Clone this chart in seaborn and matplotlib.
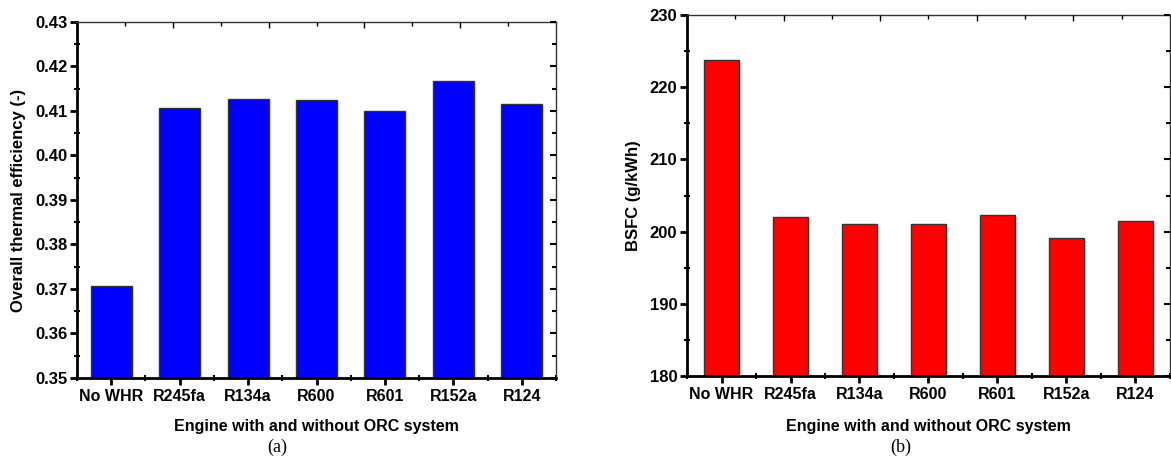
import numpy as np
import matplotlib
matplotlib.use('Agg')
import matplotlib.pyplot as plt
import seaborn as sns
from matplotlib.ticker import MultipleLocator, FixedLocator, NullFormatter, FormatStrFormatter

# Data
categories = ['No WHR', 'R245fa', 'R134a', 'R600', 'R601', 'R152a', 'R124']
efficiency = [0.3706, 0.4106, 0.4128, 0.4125, 0.4100, 0.4168, 0.4116]
bsfc = [223.8, 202.0, 201.0, 201.1, 202.3, 199.1, 201.5]

sns.set_style('white')
plt.rcParams['font.family'] = ['Liberation Sans', 'DejaVu Sans']
plt.rcParams['text.color'] = 'black'
plt.rcParams['axes.labelcolor'] = 'black'
plt.rcParams['xtick.color'] = 'black'
plt.rcParams['ytick.color'] = 'black'

fig = plt.figure(figsize=(11.71, 4.61), dpi=100)
ax1 = fig.add_axes([77 / 1171, 83 / 461, 479 / 1171, 356 / 461])
ax2 = fig.add_axes([687 / 1171, 85 / 461, 483 / 1171, 361 / 461])


def style_axes(ax, ylim, major, minor, xlabel, ylabel):
    ax.set_xlim(-0.5, 6.5)
    ax.set_ylim(*ylim)
    for s in ['left', 'bottom']:
        ax.spines[s].set_linewidth(2.0)
        ax.spines[s].set_color('black')
    for s in ['top', 'right']:
        ax.spines[s].set_linewidth(1.0)
        ax.spines[s].set_color('#333333')
    ax.yaxis.set_major_locator(MultipleLocator(major))
    ax.yaxis.set_minor_locator(MultipleLocator(minor))
    ax.xaxis.set_minor_locator(FixedLocator(np.arange(-0.5, 7, 1.0)))
    ax.tick_params(axis='both', which='major', direction='out', length=5, width=2,
                   labelsize=11.5, pad=3, left=True, bottom=True)
    ax.tick_params(axis='y', which='major', labelsize=12, pad=2)
    ax.tick_params(axis='both', which='minor', direction='inout', length=4, width=1.5,
                   left=True, bottom=True)
    ax.set_xlabel(xlabel, fontsize=11.5, fontweight='bold')
    ax.set_ylabel(ylabel, fontsize=12, fontweight='bold')

    # top axis: independent ticks pointing inward
    top = ax.twiny()
    top.set_xlim(0, 10)
    top.xaxis.set_major_locator(FixedLocator([2, 4, 6, 8]))
    top.xaxis.set_minor_locator(FixedLocator([1, 3, 5, 7, 9]))
    top.xaxis.set_major_formatter(NullFormatter())
    top.tick_params(axis='x', which='major', direction='in', length=4, width=1, top=True)
    top.tick_params(axis='x', which='minor', direction='in', length=3, width=1, top=True)
    for s in top.spines.values():
        s.set_visible(False)

    # right axis: ticks pointing inward
    right = ax.twinx()
    right.set_ylim(*ylim)
    right.yaxis.set_major_locator(MultipleLocator(major))
    right.yaxis.set_minor_locator(MultipleLocator(minor))
    right.yaxis.set_major_formatter(NullFormatter())
    right.tick_params(axis='y', which='major', direction='in', length=4, width=1.5, right=True)
    right.tick_params(axis='y', which='minor', direction='in', length=3, width=1.5, right=True)
    for s in right.spines.values():
        s.set_visible(False)


sns.barplot(x=categories, y=efficiency, color='#0000FF', saturation=1, width=0.6,
            edgecolor='#333333', linewidth=1, ax=ax1)
sns.barplot(x=categories, y=bsfc, color='#FF0000', saturation=1, width=0.5,
            edgecolor='#333333', linewidth=1, ax=ax2)

style_axes(ax1, (0.35, 0.43), 0.01, 0.005,
           'Engine with and without ORC system', 'Overall thermal efficiency (-)')
ax1.yaxis.set_major_formatter(FormatStrFormatter('%.2f'))
style_axes(ax2, (180, 230), 10, 5,
           'Engine with and without ORC system', 'BSFC (g/kWh)')

for ax in (ax1, ax2):
    for lab in ax.get_xticklabels() + ax.get_yticklabels():
        lab.set_fontweight('bold')

ax1.xaxis.set_label_coords(0.5, -0.115)
ax2.xaxis.set_label_coords(0.5, -0.118)
ax1.yaxis.set_label_coords(-0.106, 0.5)
ax2.yaxis.set_label_coords(-0.095, 0.5)

fig.text(277 / 1171, 1 - 447 / 461, '(a)', ha='center', va='center',
         family='Liberation Serif', fontsize=13)
fig.text(901 / 1171, 1 - 447 / 461, '(b)', ha='center', va='center',
         family='Liberation Serif', fontsize=13)

fig.savefig('out.png', dpi=100)
